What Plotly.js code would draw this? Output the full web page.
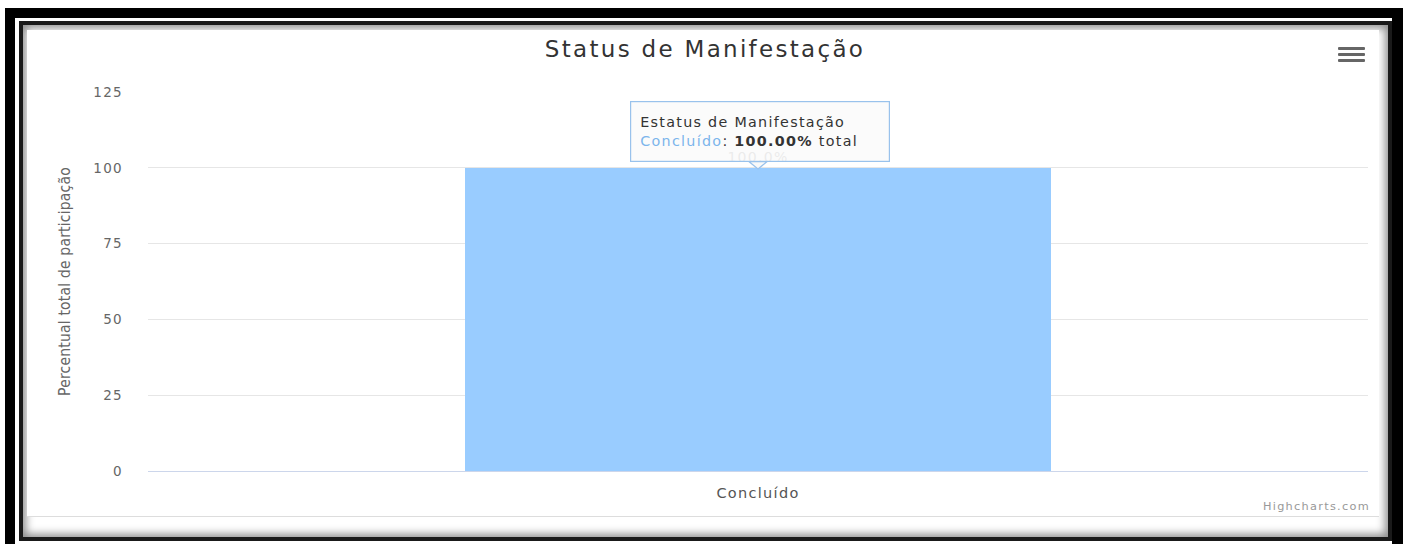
<!DOCTYPE html>
<html>
<head>
<meta charset="utf-8">
<script src="https://cdn.plot.ly/plotly-3.0.1.min.js"></script>
<style>
  html, body { margin:0; padding:0; width:1410px; height:544px; background:#fff; overflow:hidden; }
  #outer { position:absolute; left:5px; top:8px; width:1398px; height:536px; background:#000; }
  #whiteline { position:absolute; left:15px; top:18px; width:1377px; height:526px; background:#fff; }
  #box { position:absolute; left:19px; top:21px; width:1365px; height:512px; border:4px solid #1a1a1a;
         background:#fff; box-shadow: inset 0 0 9px 3px rgba(0,0,0,0.45); }
  #inner { position:absolute; left:27px; top:30px; width:1352px; height:486px; background:#fff; border-bottom:1px solid #ddd; }
  #chart { position:absolute; left:0; top:0; width:1410px; height:544px; }
  .bar { position:absolute; left:1338px; width:27px; height:3px; background:#666; border-radius:1px; }
  #chart text { letter-spacing: 1.3px; }
  #chart .gtitle { letter-spacing: 2.3px; }
  #chart .ytitle { letter-spacing: 0.2px; }
</style>
</head>
<body>
<div id="outer"></div>
<div id="whiteline"></div>
<div id="box"></div>
<div id="inner"></div>
<div class="bar" style="top:47px"></div>
<div class="bar" style="top:53px"></div>
<div class="bar" style="top:59px"></div>
<div id="chart"></div>
<script>
const categories = ["Concluído"];
const values = [100];
const dataLabels = ["100.0%"];
const yTicks = [0, 25, 50, 75, 100, 125];
const chartTitle = "Status de Manifestação";
const yTitle = "Percentual total de participação";
const tooltipHeader = "Estatus de Manifestação";

const trace = {
  type: "bar",
  x: categories,
  y: values,
  text: dataLabels,
  textposition: "outside",
  cliponaxis: false,
  textfont: { family: "DejaVu Sans", size: 14, color: "#c4c4c4" },
  marker: { color: "#99ccff", line: { width: 0 } },
  width: 0.48,
  hoverinfo: "none"
};

const tipText = tooltipHeader + "<br><span style='color:#7cb5ec'>" + categories[0] +
  "</span>: <b>" + values[0].toFixed(2) + "%</b> total";

const layout = {
  width: 1410, height: 544,
  paper_bgcolor: "rgba(0,0,0,0)",
  plot_bgcolor: "rgba(0,0,0,0)",
  margin: { l: 148, r: 42, t: 92, b: 73, pad: 0 },
  showlegend: false,
  title: { text: chartTitle, x: 0.5, xanchor: "center", y: 0.91, yanchor: "middle",
           font: { family: "DejaVu Sans", size: 23, color: "#333333" } },
  xaxis: {
    range: [-0.5, 0.5],
    showgrid: false, zeroline: false,
    showline: true, linecolor: "#ccd6eb", linewidth: 1,
    ticks: "", tickfont: { family: "DejaVu Sans", size: 14.5, color: "#555555" },
    ticklabelstandoff: 9,
    fixedrange: true
  },
  yaxis: {
    range: [0, 125],
    tickvals: yTicks,
    ticktext: yTicks.map(String),
    showgrid: true, gridcolor: "#e6e6e6", gridwidth: 1,
    zeroline: false, showline: false, ticks: "",
    tickfont: { family: "DejaVu Sans", size: 13.5, color: "#666666" },
    ticklabelstandoff: 24,
    title: { text: yTitle, standoff: 22,
             font: { family: "Liberation Sans Narrow, DejaVu Sans Condensed", size: 15.5, color: "#666666" } },
    fixedrange: true
  },
  bargap: 0,
  shapes: [
    {
      type: "path", xref: "x", yref: "y", layer: "above",
      path: "M -0.0075,102.05 L 0.0075,102.05 L 0,99.6 Z",
      fillcolor: "rgba(249,249,249,0.95)", line: { color: "#99c2ec", width: 1.2 }
    }
  ],
  annotations: [
    {
      xref: "x", yref: "y", x: 0, y: 101.9,
      showarrow: false,
      text: tipText,
      xanchor: "center", yanchor: "bottom",
      xshift: 2,
      width: 240, height: 41,
      align: "left", valign: "middle",
      bgcolor: "rgba(249,249,249,0.72)",
      bordercolor: "#99c2ec", borderwidth: 1.2, borderpad: 9,
      font: { family: "DejaVu Sans", size: 14.3, color: "#333333" }
    },
    {
      xref: "paper", yref: "paper", x: 1, y: 0, yshift: -35, xshift: -5,
      xanchor: "right", yanchor: "middle", showarrow: false,
      text: "Highcharts.com",
      font: { family: "DejaVu Sans", size: 11.3, color: "#999999" }
    }
  ]
};

Plotly.newPlot("chart", [trace], layout, { displayModeBar: false, staticPlot: true });
</script>
</body>
</html>
